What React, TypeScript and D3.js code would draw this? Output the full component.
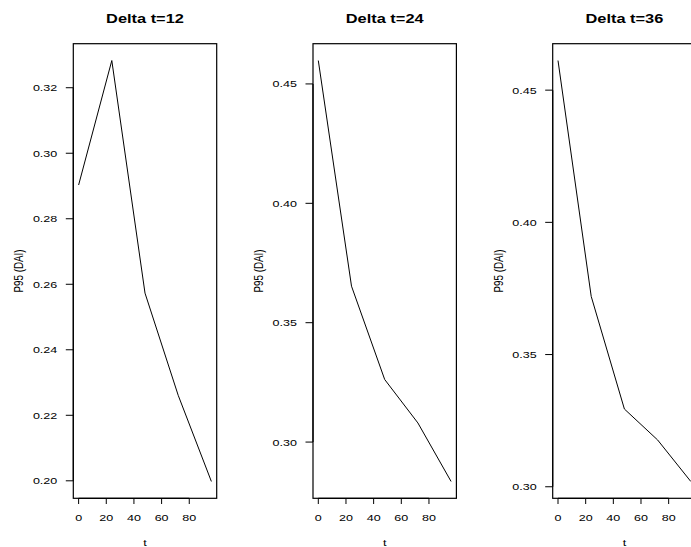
import React from "react";
import * as d3 from "d3";

const tValues = [0, 24, 48, 72, 96];
const titles = ["Delta t=12", "Delta t=24", "Delta t=36"];
const series12 = [0.2903, 0.3283, 0.2573, 0.2261, 0.1998];
const series24 = [0.4598, 0.3653, 0.3262, 0.308, 0.2835];
const series36 = [0.4612, 0.372, 0.3294, 0.3177, 0.302];
const yTicks12 = [0.2, 0.22, 0.24, 0.26, 0.28, 0.3, 0.32];
const yTicks24 = [0.3, 0.35, 0.4, 0.45];
const yTicks36 = [0.3, 0.35, 0.4, 0.45];
const xTicks = [0, 20, 40, 60, 80];
const yLabel = "P95 (DAI)";
const xLabel = "t";

const W = 691;
const H = 547;
const PANEL_STEP = 239.7;
const BOX_LEFT = 73.3;
const BOX_W = 143.4;
const BOX_TOP = 43.7;
const BOX_BOTTOM = 498.3;
const SX = 1.28;
const FONT = "'Liberation Sans', Arial, Helvetica, sans-serif";

function rExtent(vals: number[]): [number, number] {
  const mn = d3.min(vals) as number;
  const mx = d3.max(vals) as number;
  const d = mx - mn;
  return [mn - 0.04 * d, mx + 0.04 * d];
}

function fmt(v: number, ticks: number[]) {
  return v.toFixed(2);
}

function Panel({ k, values, yTicks, title }: { k: number; values: number[]; yTicks: number[]; title: string }) {
  const left = BOX_LEFT + k * PANEL_STEP;
  const right = left + BOX_W;
  const x = d3.scaleLinear().domain(rExtent(tValues)).range([left, right]);
  const y = d3.scaleLinear().domain(rExtent(values)).range([BOX_BOTTOM, BOX_TOP]);
  const line = d3
    .line<number>()
    .x((_, i) => x(tValues[i]))
    .y((v) => y(v));
  const cx = (left + right) / 2;
  const cy = (BOX_TOP + BOX_BOTTOM) / 2;
  const yt = yTicks;
  const xt = xTicks;
  return (
    <g>
      <text
        transform={`translate(${cx},23.3) scale(${SX},1)`}
        textAnchor="middle"
        fontFamily={FONT}
        fontWeight="bold"
        fontSize={12.8}
        fill="#000"
      >
        {title}
      </text>
      <path d={line(values) || ""} fill="none" stroke="#000" strokeWidth={1} />
      <rect x={left} y={BOX_TOP} width={BOX_W} height={BOX_BOTTOM - BOX_TOP} fill="none" stroke="#000" strokeWidth={1.2} />
      {/* y axis */}
      <line x1={left} x2={left} y1={y(yt[0])} y2={y(yt[yt.length - 1])} stroke="#000" strokeWidth={1.2} />
      {yt.map((v) => (
        <g key={"y" + v}>
          <line x1={left - 7.5} x2={left} y1={y(v)} y2={y(v)} stroke="#000" strokeWidth={1} />
          <text
            transform={`translate(${left - 16},${y(v) + 3.5}) scale(${SX},1)`}
            textAnchor="end"
            fontFamily={FONT}
            fontSize={9.8}
            fill="#000"
          >
            {fmt(v, yt)}
          </text>
        </g>
      ))}
      {/* x axis */}
      <line x1={x(xt[0])} x2={x(xt[xt.length - 1])} y1={BOX_BOTTOM} y2={BOX_BOTTOM} stroke="#000" strokeWidth={1.2} />
      {xt.map((v) => (
        <g key={"x" + v}>
          <line x1={x(v)} x2={x(v)} y1={BOX_BOTTOM} y2={BOX_BOTTOM + 5.7} stroke="#000" strokeWidth={1} />
          <text
            transform={`translate(${x(v)},520.8) scale(${SX},1)`}
            textAnchor="middle"
            fontFamily={FONT}
            fontSize={9.8}
            fill="#000"
          >
            {String(v)}
          </text>
        </g>
      ))}
      <text
        transform={`translate(${cx},545.7) scale(${SX},1)`}
        textAnchor="middle"
        fontFamily={FONT}
        fontSize={9.8}
        fill="#000"
      >
        {xLabel}
      </text>
      <text
        transform={`translate(${left - 50},${cy}) scale(${SX},1) rotate(-90)`}
        textAnchor="middle"
        fontFamily={FONT}
        fontSize={9.8}
        fill="#000"
      >
        {yLabel}
      </text>
    </g>
  );
}

export default function App() {
  const all = [
    { values: series12, ticks: yTicks12 },
    { values: series24, ticks: yTicks24 },
    { values: series36, ticks: yTicks36 },
  ];
  return (
    <svg
      width={W}
      height={H}
      viewBox={`0 0 ${W} ${H}`}
      style={{ position: "absolute", left: 0, top: 0, background: "#fff" }}
    >
      <rect x={0} y={0} width={W} height={H} fill="#fff" />
      {all.map((p, k) => (
        <Panel key={k} k={k} values={p.values} yTicks={p.ticks} title={titles[k]} />
      ))}
    </svg>
  );
}
